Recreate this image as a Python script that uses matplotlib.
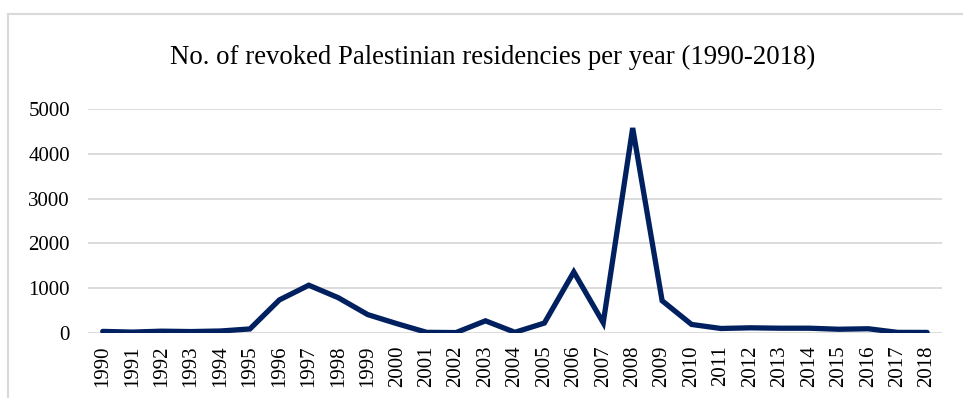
import matplotlib.pyplot as plt
from matplotlib.lines import Line2D

years = [str(y) for y in range(1990, 2019)]
revoked = [36, 20, 41, 32, 45, 91, 739, 1067, 788, 411, 207, 15, 10, 272, 16,
           222, 1363, 229, 4577, 721, 191, 101, 116, 107, 107, 84, 95, 14, 13]
y_ticks = [0, 1000, 2000, 3000, 4000, 5000]

plt.rcParams['font.family'] = ['Liberation Serif', 'DejaVu Serif']

fig = plt.figure(figsize=(9.63, 3.98), dpi=100)
ax = fig.add_axes([0.0914, 0.1633, 0.8866, 0.5627])

# chart border (cropped on right and bottom)
fig.add_artist(Line2D([8 / 963, 1.0], [1 - 14 / 398, 1 - 14 / 398],
                      color='#d9d9d9', lw=1.5, transform=fig.transFigure))
fig.add_artist(Line2D([8 / 963, 8 / 963], [0.0, 1 - 14 / 398],
                      color='#d9d9d9', lw=1.5, transform=fig.transFigure))

ax.plot(range(len(years)), revoked, color='#002060', lw=3.8,
        solid_joinstyle='miter', solid_capstyle='round', zorder=3)

ax.set_xlim(-0.5, len(years) - 0.5)
ax.set_ylim(0, 5000)
ax.set_yticks(y_ticks)
ax.set_yticklabels([str(v) for v in y_ticks])
ax.set_xticks(range(len(years)))
ax.set_xticklabels(years, rotation=90)
ax.grid(axis='y', color='#d9d9d9', lw=1.3)
ax.set_axisbelow(True)
for s in ax.spines.values():
    s.set_visible(False)
ax.tick_params(axis='both', length=0, labelsize=15, colors='black')
ax.tick_params(axis='x', pad=9)
ax.tick_params(axis='y', pad=13)

fig.text(0.512, 1 - 57 / 398, 'No. of revoked Palestinian residencies per year (1990-2018)',
         ha='center', va='center', fontsize=19.3)

fig.savefig('out.png', dpi=100)
